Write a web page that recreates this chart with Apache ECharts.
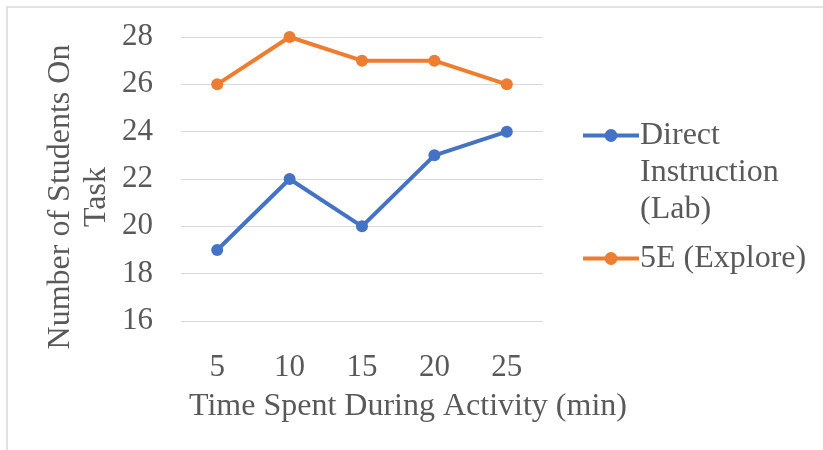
<!DOCTYPE html>
<html>
<head>
<meta charset="utf-8">
<script src="https://cdn.jsdelivr.net/npm/echarts@6/dist/echarts.min.js"></script>
<style>html,body{margin:0;padding:0;background:#fff}#c{width:823px;height:450px}</style>
</head>
<body>
<div id="c"></div>
<script>
var categories = ['5', '10', '15', '20', '25'];
var directInstruction = [19, 22, 20, 23, 24];
var fiveE = [26, 28, 27, 27, 26];
var seriesNames = ['Direct Instruction (Lab)', '5E (Explore)'];
var yTicks = { min: 16, max: 28, interval: 2 };

var FONT = '"Liberation Serif", "Times New Roman", serif';
var TXT = '#595959';
var FS = 31;
var FT = 32;

var chart = echarts.init(document.getElementById('c'), null, { renderer: 'canvas' });
chart.setOption({
  animation: false,
  textStyle: { fontFamily: FONT, color: TXT },
  graphic: [{
    type: 'rect',
    shape: { x: 7, y: 7, width: 900, height: 500 },
    style: { fill: 'none', stroke: '#d9d9d9', lineWidth: 1.5 },
    silent: true
  }],
  grid: { left: 181, right: 280, top: 37, bottom: 129 },
  legend: {
    orient: 'vertical',
    left: 576,
    top: 38,
    itemGap: 12,
    itemWidth: 56,
    itemHeight: 16,
    data: seriesNames,
    lineStyle: { width: 4 },
    formatter: function (name) {
      if (name === seriesNames[0]) return '\n\nDirect\nInstruction\n(Lab)';
      return name;
    },
    textStyle: { fontFamily: FONT, fontSize: FT, color: TXT, lineHeight: 37, padding: [0, 0, 0, -4] }
  },
  xAxis: {
    type: 'category',
    data: categories,
    boundaryGap: true,
    axisLine: { show: false },
    axisTick: { show: false },
    axisLabel: { fontFamily: FONT, fontSize: FS, color: TXT, margin: 31 },
    name: 'Time Spent During Activity (min)',
    nameLocation: 'middle',
    nameGap: 70,
    nameTextStyle: { fontFamily: FONT, fontSize: FT, color: TXT, padding: [0, 0, 0, 92] }
  },
  yAxis: {
    type: 'value',
    min: yTicks.min,
    max: yTicks.max,
    interval: yTicks.interval,
    axisLine: { show: false },
    axisTick: { show: false },
    splitLine: { lineStyle: { color: '#d9d9d9', width: 1 } },
    axisLabel: { fontFamily: FONT, fontSize: FS, color: TXT, margin: 28 },
    name: 'Number of Students On\nTask',
    nameLocation: 'middle',
    nameRotate: 90,
    nameGap: 66,
    nameTextStyle: { fontFamily: FONT, fontSize: FT, color: TXT, lineHeight: 36, padding: [0, 36, 0, 0] }
  },
  series: [{
    name: seriesNames[0],
    type: 'line',
    data: directInstruction,
    symbol: 'circle',
    symbolSize: 12,
    itemStyle: { color: '#4472C4' },
    lineStyle: { color: '#4472C4', width: 4 }
  }, {
    name: seriesNames[1],
    type: 'line',
    data: fiveE,
    symbol: 'circle',
    symbolSize: 12,
    itemStyle: { color: '#ED7D31' },
    lineStyle: { color: '#ED7D31', width: 4 }
  }]
});
</script>
</body>
</html>
